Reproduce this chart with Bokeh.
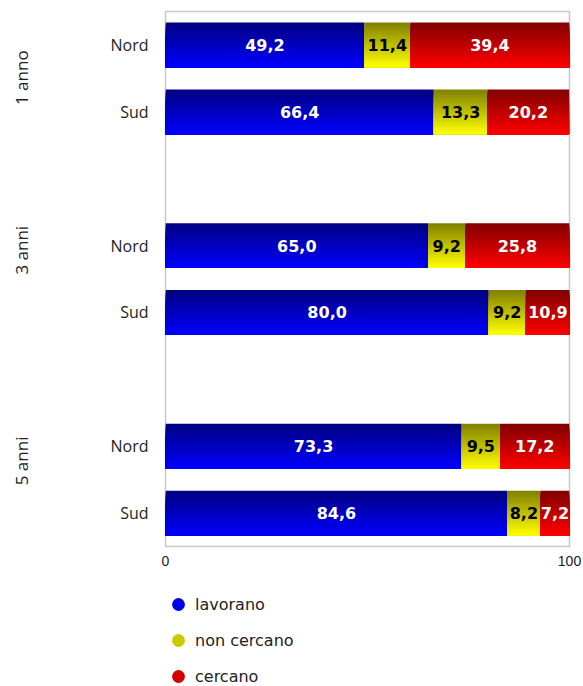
import math
from bokeh.plotting import figure
from bokeh.layouts import column
from bokeh.models import (Range1d, FixedTicker, LinearAxis, Legend, LegendItem,
                          ColumnDataSource)
from bokeh.core.properties import value
from bokeh.embed import file_html
from bokeh.resources import INLINE

# ---- data ----
groups = ["1 anno", "3 anni", "5 anni"]
regions = ["Nord", "Sud"]
categories = ["lavorano", "non cercano", "cercano"]
lavorano = [49.2, 66.4, 65.0, 80.0, 73.3, 84.6]
non_cercano = [11.4, 13.3, 9.2, 9.2, 9.5, 8.2]
cercano = [39.4, 20.2, 25.8, 10.9, 17.2, 7.2]
x_ticks = [0, 100]

# ---- styles / layout ----
top_rgb = [(0, 0, 128), (128, 128, 0), (128, 0, 0)]
bot_rgb = [(0, 0, 255), (255, 255, 0), (255, 0, 0)]
legend_colors = ["#0000e6", "#caca00", "#d40000"]
label_colors = ["white", "black", "white"]
BAR_H = 0.67
NSTRIP = 24
GROUP_LABEL_POS = [0.99, 3.57, 6.72]   # where the rotated group titles sit (slot units)

def mix(a, b, t):
    return "#%02x%02x%02x" % tuple(int(round(a[i] + (b[i] - a[i]) * t)) for i in range(3))

series = [lavorano, non_cercano, cercano]
n_rows = len(lavorano)
row_y = []
row_labels = {}
for i in range(n_rows):
    g, r = divmod(i, len(regions))
    y = g * (len(regions) + 1) + r + 0.5
    row_y.append(y)
    row_labels[y] = regions[r]
group_labels = {pos: name for pos, name in zip(GROUP_LABEL_POS, groups)}

p = figure(width=583, height=580, output_backend="svg", toolbar_location=None,
           x_range=Range1d(0, 100), y_range=Range1d(8, 0),
           min_border_left=165, min_border_right=14, min_border_top=11, min_border_bottom=34)
p.background_fill_color = "white"
p.border_fill_color = "white"
p.outline_line_color = "#c8c8c8"
p.outline_line_width = 1.5
p.grid.visible = False

# gradient bars made of overlapping strips
qs = dict(left=[], right=[], top=[], bottom=[], color=[])
txt = dict(x=[], y=[], text=[], color=[])
for i in range(n_rows):
    left = 0.0
    yc = row_y[i]
    yt = yc - BAR_H / 2
    yb = yc + BAR_H / 2
    for c, s in enumerate(series):
        v = s[i]
        right = left + v
        for k in range(NSTRIP):
            t = (k + 0.5) / NSTRIP
            qs["left"].append(left)
            qs["right"].append(right)
            qs["top"].append(yt + k * BAR_H / NSTRIP)
            qs["bottom"].append(yb)
            qs["color"].append(mix(top_rgb[c], bot_rgb[c], t))
        txt["x"].append((left + right) / 2)
        txt["y"].append(yc)
        txt["text"].append(("%.1f" % v).replace(".", ","))
        txt["color"].append(label_colors[c])
        left = right

p.quad(left="left", right="right", top="top", bottom="bottom", fill_color="color",
       line_color=None, source=ColumnDataSource(qs))
p.text(x="x", y="y", text="text", text_color="color", source=ColumnDataSource(txt),
       text_font=value("DejaVu Sans"), text_font_style="bold", text_font_size="16px",
       text_align="center", text_baseline="middle")

# axes
p.xaxis.ticker = FixedTicker(ticks=x_ticks)
p.xaxis.axis_line_color = None
p.xaxis.major_tick_line_color = None
p.xaxis.minor_tick_line_color = None
p.xaxis.major_tick_out = 0
p.xaxis.major_label_standoff = 9
p.xaxis.major_label_text_font = "Liberation Sans"
p.xaxis.major_label_text_font_size = "14px"
p.xaxis.major_label_text_color = "#222222"

p.yaxis.ticker = FixedTicker(ticks=row_y)
p.yaxis.major_label_overrides = row_labels
p.yaxis.axis_line_color = None
p.yaxis.major_tick_line_color = None
p.yaxis.minor_tick_line_color = None
p.yaxis.major_tick_out = 0
p.yaxis.major_label_standoff = 17
p.yaxis.major_label_text_font = "Open Sans"
p.yaxis.major_label_text_font_size = "16px"
p.yaxis.major_label_text_color = "#222222"

# group labels as an outer left axis
gax = LinearAxis(ticker=FixedTicker(ticks=GROUP_LABEL_POS), major_label_overrides=group_labels,
                 axis_line_color=None, major_tick_line_color=None, minor_tick_line_color=None,
                 major_tick_out=0, major_label_standoff=74,
                 major_label_orientation="parallel",
                 major_label_text_font="Open Sans", major_label_text_font_size="17px",
                 major_label_text_color="#222222")
p.add_layout(gax, "left")

# legend in its own strip below the chart
lg = figure(width=583, height=106, output_backend="svg", toolbar_location=None,
            x_range=Range1d(0, 1), y_range=Range1d(0, 1),
            min_border_left=0, min_border_right=0, min_border_top=0, min_border_bottom=0)
lg.axis.visible = False
lg.grid.visible = False
lg.outline_line_color = None
lg.background_fill_color = "white"
lg.border_fill_color = "white"
items = []
for c, name in enumerate(categories):
    # one point placed outside the visible range so only the legend glyph shows
    r = lg.scatter(x=[-5], y=[-5], marker="circle", fill_color=legend_colors[c], line_color=None)
    items.append(LegendItem(label=name, renderers=[r]))
legend = Legend(items=items, location=(-3, -6), orientation="vertical",
                glyph_width=32, glyph_height=32, spacing=4, label_standoff=1,
                padding=0, margin=0, border_line_color=None, background_fill_alpha=0,
                label_text_font="DejaVu Sans", label_text_font_size="16px",
                label_text_color="#222222", label_height=32)
lg.add_layout(legend, "center")

layout = column(p, lg, spacing=0)
open("out.html", "w").write(file_html(layout, INLINE))
